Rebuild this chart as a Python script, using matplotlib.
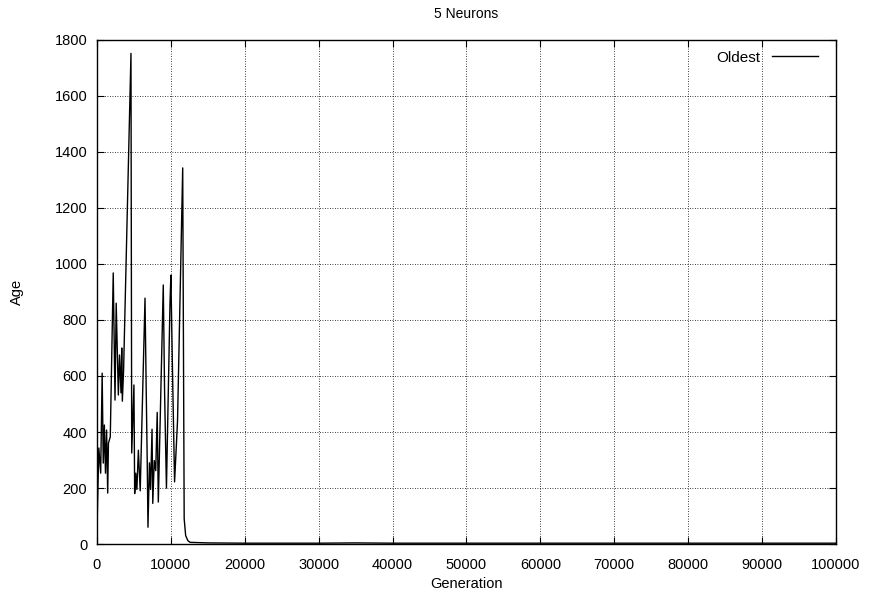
import matplotlib.pyplot as plt

# Generation / oldest-age trace
generation = [0, 250, 500, 700, 850, 1000, 1150, 1300, 1450, 1550, 1800, 2200,
              2440, 2600, 2890, 3050, 3250, 3350, 3430, 3600, 4600, 4700, 5000,
              5100, 5250, 5400, 5600, 5850, 6500, 6650, 6800, 6900, 7100, 7250,
              7450, 7550, 7750, 7950, 8150, 8300, 8970, 9150, 9400, 9880, 10000,
              10200, 10500, 10900, 11600, 11800, 12000, 12300, 12600, 15000,
              20000, 25000, 30000, 35000, 40000, 45000, 50000, 55000, 60000,
              65000, 70000, 75000, 80000, 85000, 90000, 95000, 100000]
age = [50, 343, 253, 610, 289, 425, 253, 407, 182, 360, 383, 968,
       514, 860, 532, 675, 540, 700, 510, 620, 1752, 325, 568,
       180, 253, 195, 335, 190, 878, 573, 293, 60, 290, 195,
       410, 145, 298, 262, 470, 150, 925, 540, 200, 860, 960,
       645, 222, 440, 1343, 90, 30, 12, 6, 4,
       3, 3, 3, 4, 3, 3, 3, 3, 3,
       3, 3, 3, 3, 3, 3, 3, 3]

plt.rcParams['font.family'] = ['Liberation Sans', 'DejaVu Sans']
plt.rcParams['font.size'] = 10.5

fig = plt.figure(figsize=(8.69, 5.96), dpi=100)
ax = fig.add_axes([0.1116, 0.0872, 0.8504, 0.8458])

ax.plot(generation, age, color='black', linewidth=1.0, label='Oldest')

ax.set_xlim(0, 100000)
ax.set_ylim(0, 1800)
ax.set_xticks(range(0, 100001, 10000))
ax.set_yticks(range(0, 1801, 200))
ax.tick_params(direction='in', top=True, right=True, length=5, pad=7)
ax.tick_params(axis='x', pad=10)
ax.grid(True, linestyle=(0, (1, 2)), color='black', linewidth=0.6)
for s in ax.spines.values():
    s.set_linewidth(1.0)

ax.set_xlabel('Generation', labelpad=4)
ax.set_ylabel('Age', labelpad=22)
ax.set_title('5 Neurons', fontsize=10, pad=16)

ax.legend(loc='upper right', bbox_to_anchor=(0.99, 1.0), frameon=False,
          markerfirst=False, handlelength=3.0, borderaxespad=0.3, fontsize=11)

fig.savefig('out.png', dpi=100)
